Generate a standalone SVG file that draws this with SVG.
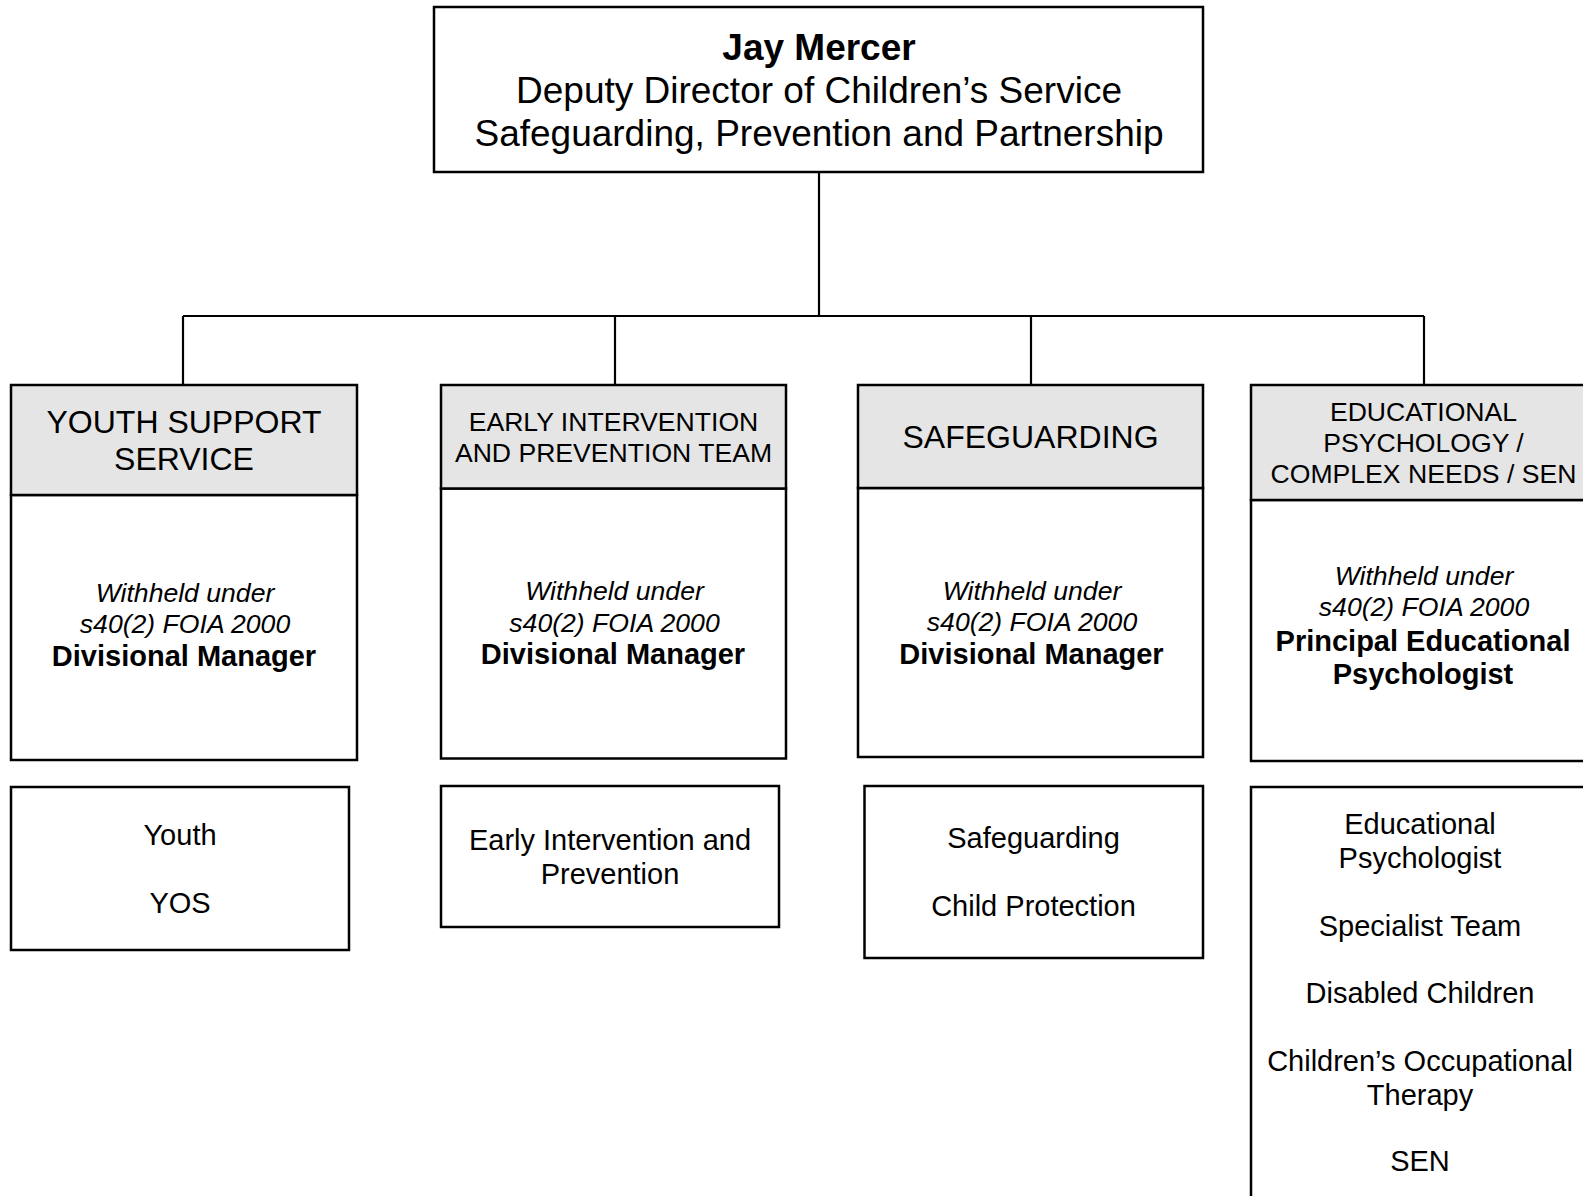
<svg xmlns="http://www.w3.org/2000/svg" width="1583" height="1196" viewBox="0 0 1583 1196">
<style>
  .box{fill:#ffffff;stroke:#000;stroke-width:2.5}
  .hdr{fill:#e5e5e5;stroke:#000;stroke-width:2.5}
  .conn{fill:none;stroke:#000;stroke-width:2.2}
  text{font-family:"Liberation Sans",Arial,Helvetica,sans-serif;fill:#000;text-anchor:middle}
  .t37{font-size:37px}
  .b37{font-size:37px;font-weight:bold}
  .h32{font-size:32px}
  .h26{font-size:26.6px}
  .it{font-size:26.6px;font-style:italic}
  .bd{font-size:29px;font-weight:bold}
  .t29{font-size:29px}
</style>
<rect width="1583" height="1196" fill="#ffffff"/>
<g id="connectors">
  <path class="conn" d="M819 172 V316"/>
  <path class="conn" d="M183 316 H1424"/>
  <path class="conn" d="M183 316 V385"/>
  <path class="conn" d="M615 316 V385"/>
  <path class="conn" d="M1031 316 V385"/>
  <path class="conn" d="M1424 316 V385"/>
</g>
<g id="director">
  <rect class="box" x="434" y="7" width="769" height="165"/>
  <text class="b37" x="819" y="60">Jay Mercer</text>
  <text class="t37" x="819" y="103">Deputy Director of Children’s Service</text>
  <text class="t37" x="819" y="146">Safeguarding, Prevention and Partnership</text>
</g>
<g id="youth-support">
  <rect class="box" x="11" y="495" width="346" height="265"/>
  <rect class="hdr" x="11" y="385" width="346" height="110"/>
  <text class="h32" x="184" y="433">YOUTH SUPPORT</text>
  <text class="h32" x="184" y="469.5">SERVICE</text>
  <text class="it" x="185" y="601.5">Withheld under</text>
  <text class="it" x="185" y="633">s40(2) FOIA 2000</text>
  <text class="bd" x="184" y="666">Divisional Manager</text>
</g>
<g id="early-intervention">
  <rect class="box" x="441" y="488.5" width="345" height="270"/>
  <rect class="hdr" x="441" y="385" width="345" height="103.5"/>
  <text class="h26" x="613.5" y="431">EARLY INTERVENTION</text>
  <text class="h26" x="613.5" y="461.5">AND PREVENTION TEAM</text>
  <text class="it" x="614.5" y="600">Withheld under</text>
  <text class="it" x="614.5" y="631.5">s40(2) FOIA 2000</text>
  <text class="bd" x="613" y="664">Divisional Manager</text>
</g>
<g id="safeguarding">
  <rect class="box" x="858" y="488" width="345" height="269"/>
  <rect class="hdr" x="858" y="385" width="345" height="103"/>
  <text class="h32" x="1030.5" y="447.5">SAFEGUARDING</text>
  <text class="it" x="1032" y="599.5">Withheld under</text>
  <text class="it" x="1032" y="631">s40(2) FOIA 2000</text>
  <text class="bd" x="1031.5" y="663.5">Divisional Manager</text>
</g>
<g id="educational-psychology">
  <rect class="box" x="1251" y="500" width="350" height="261"/>
  <rect class="hdr" x="1251" y="385" width="350" height="115"/>
  <text class="h26" x="1423.5" y="421">EDUCATIONAL</text>
  <text class="h26" x="1423.5" y="452">PSYCHOLOGY /</text>
  <text class="h26" x="1423.5" y="483">COMPLEX NEEDS / SEN</text>
  <text class="it" x="1424" y="584.5">Withheld under</text>
  <text class="it" x="1424" y="616">s40(2) FOIA 2000</text>
  <text class="bd" x="1423" y="650.5">Principal Educational</text>
  <text class="bd" x="1423" y="684">Psychologist</text>
</g>
<g id="youth-teams">
  <rect class="box" x="11" y="787" width="338" height="163"/>
  <text class="t29" x="180" y="845">Youth</text>
  <text class="t29" x="180" y="912.5">YOS</text>
</g>
<g id="early-teams">
  <rect class="box" x="441" y="786" width="338" height="141"/>
  <text class="t29" x="610" y="850">Early Intervention and</text>
  <text class="t29" x="610" y="883.5">Prevention</text>
</g>
<g id="safeguarding-teams">
  <rect class="box" x="864.5" y="786" width="338.5" height="172"/>
  <text class="t29" x="1033.5" y="848">Safeguarding</text>
  <text class="t29" x="1033.5" y="916">Child Protection</text>
</g>
<g id="ep-teams">
  <rect class="box" x="1251" y="787" width="350" height="430"/>
  <text class="t29" x="1420" y="833.5">Educational</text>
  <text class="t29" x="1420" y="867.5">Psychologist</text>
  <text class="t29" x="1420" y="936">Specialist Team</text>
  <text class="t29" x="1420" y="1003">Disabled Children</text>
  <text class="t29" x="1420" y="1071">Children’s Occupational</text>
  <text class="t29" x="1420" y="1104.5">Therapy</text>
  <text class="t29" x="1420" y="1171">SEN</text>
</g>
</svg>
